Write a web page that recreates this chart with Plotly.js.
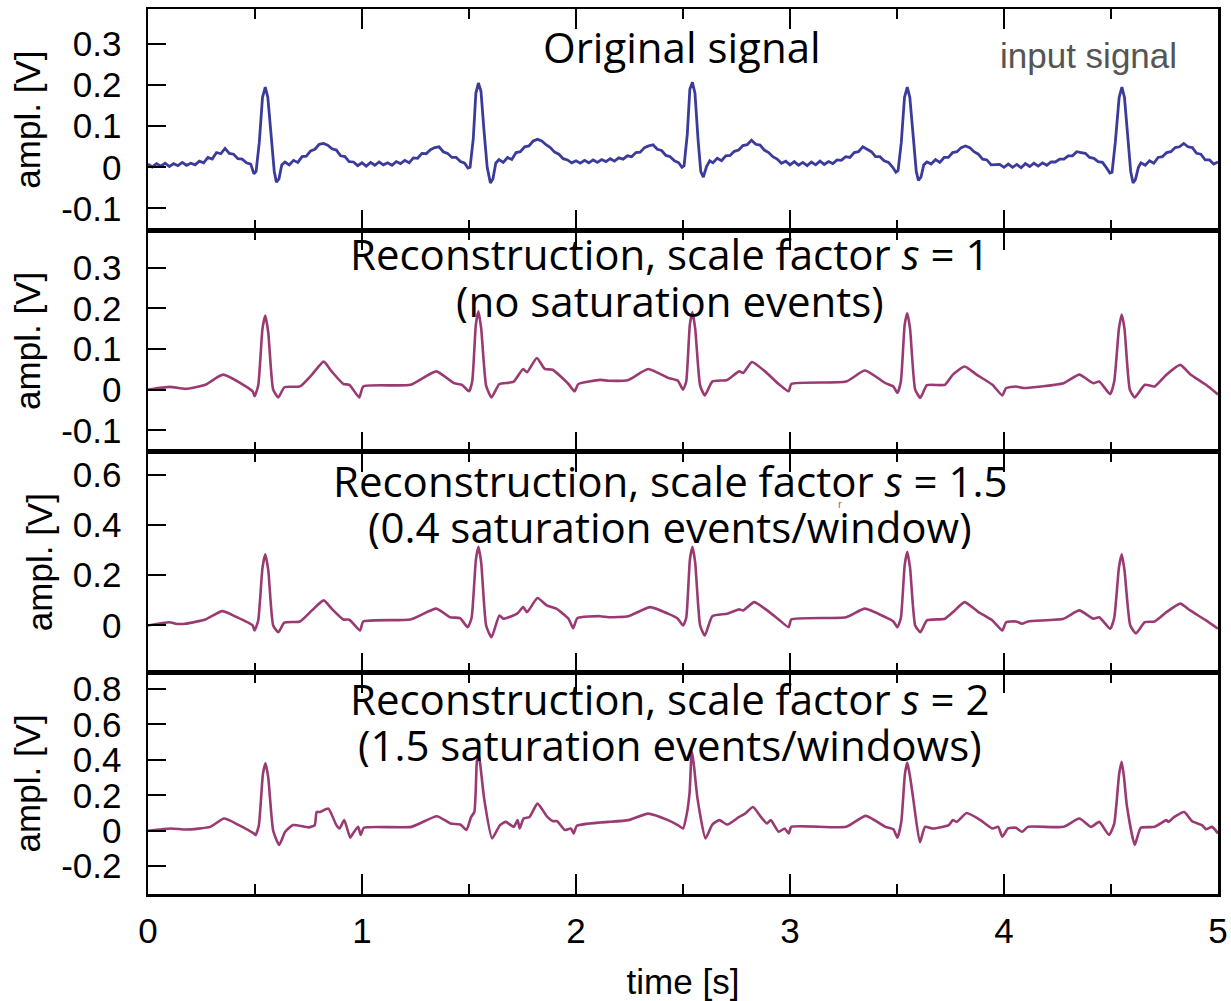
<!DOCTYPE html>
<html>
<head>
<meta charset="utf-8">
<script src="https://cdn.plot.ly/plotly-3.0.1.min.js"></script>
<style>html,body{margin:0;padding:0;background:#fff;}#chart{width:1231px;height:1001px;}</style>
</head>
<body>
<div id="chart"></div>
<script>
// ---------- data ----------
// Original (input) signal
const tOrig = [0.00,0.02,0.04,0.06,0.08,0.10,0.12,0.14,0.16,0.18,0.20,0.22,0.24,0.26,0.28,0.30,0.32,0.34,0.36,0.38,0.40,0.42,0.44,0.46,0.48,0.495,0.505,0.52,0.535,0.548,0.56,0.575,0.59,0.60,0.612,0.625,0.64,0.66,0.68,0.70,0.72,0.74,0.76,0.78,0.80,0.82,0.84,0.86,0.88,0.90,0.92,0.94,0.96,0.98,1.00,1.02,1.04,1.06,1.08,1.10,1.12,1.14,1.16,1.18,1.20,1.22,1.24,1.26,1.28,1.30,1.32,1.34,1.36,1.38,1.40,1.42,1.44,1.46,1.48,1.495,1.505,1.52,1.532,1.544,1.556,1.57,1.585,1.60,1.612,1.625,1.64,1.66,1.68,1.70,1.72,1.74,1.76,1.78,1.80,1.82,1.84,1.86,1.88,1.90,1.92,1.94,1.96,1.98,2.00,2.02,2.04,2.06,2.08,2.10,2.12,2.14,2.16,2.18,2.20,2.22,2.24,2.26,2.28,2.30,2.32,2.34,2.36,2.38,2.40,2.42,2.44,2.46,2.48,2.495,2.505,2.52,2.532,2.544,2.556,2.57,2.583,2.595,2.61,2.625,2.64,2.66,2.68,2.70,2.72,2.74,2.76,2.78,2.80,2.82,2.84,2.86,2.88,2.90,2.92,2.94,2.96,2.98,3.00,3.02,3.04,3.06,3.08,3.10,3.12,3.14,3.16,3.18,3.20,3.22,3.24,3.26,3.28,3.30,3.32,3.34,3.36,3.38,3.40,3.42,3.44,3.46,3.48,3.495,3.505,3.52,3.535,3.548,3.56,3.575,3.59,3.60,3.612,3.625,3.64,3.66,3.68,3.70,3.72,3.74,3.76,3.78,3.80,3.82,3.84,3.86,3.88,3.90,3.92,3.94,3.96,3.98,4.00,4.02,4.04,4.06,4.08,4.10,4.12,4.14,4.16,4.18,4.20,4.22,4.24,4.26,4.28,4.30,4.32,4.34,4.36,4.38,4.40,4.42,4.44,4.46,4.48,4.495,4.505,4.52,4.538,4.551,4.563,4.578,4.592,4.603,4.614,4.628,4.64,4.66,4.68,4.70,4.72,4.74,4.76,4.78,4.80,4.82,4.84,4.86,4.88,4.90,4.92,4.94,4.96,4.98,5.00];
const vOrig = [0.008,0.001,0.009,0.003,0.010,0.002,0.009,0.004,0.012,0.005,0.010,0.006,0.015,0.011,0.024,0.020,0.036,0.033,0.046,0.034,0.032,0.021,0.020,0.011,0.008,-0.016,-0.010,0.06,0.17,0.195,0.17,0.07,-0.01,-0.036,-0.028,0.006,0.013,0.006,0.017,0.012,0.026,0.027,0.040,0.044,0.056,0.058,0.054,0.045,0.042,0.028,0.026,0.014,0.013,0.004,0.011,0.003,0.012,0.005,0.013,0.006,0.011,0.005,0.014,0.009,0.017,0.011,0.023,0.022,0.034,0.033,0.043,0.048,0.050,0.038,0.034,0.024,0.024,0.014,0.010,-0.002,0.0,0.07,0.18,0.205,0.185,0.09,0.0,-0.038,-0.028,0.010,0.019,0.012,0.024,0.019,0.036,0.038,0.050,0.052,0.064,0.068,0.064,0.055,0.048,0.037,0.032,0.021,0.018,0.011,0.016,0.010,0.017,0.011,0.018,0.012,0.019,0.014,0.021,0.015,0.023,0.020,0.028,0.026,0.036,0.037,0.048,0.052,0.055,0.044,0.041,0.029,0.026,0.016,0.011,0.0,0.004,0.08,0.19,0.207,0.18,0.07,-0.01,-0.024,0.002,0.016,0.011,0.022,0.016,0.028,0.029,0.039,0.042,0.053,0.055,0.066,0.056,0.054,0.042,0.036,0.026,0.020,0.010,0.015,0.006,0.014,0.005,0.012,0.004,0.013,0.006,0.015,0.007,0.014,0.009,0.018,0.017,0.026,0.024,0.036,0.038,0.050,0.044,0.038,0.026,0.026,0.016,0.012,0.0,-0.012,-0.008,0.06,0.17,0.195,0.17,0.07,-0.01,-0.032,-0.024,0.006,0.013,0.008,0.019,0.012,0.024,0.024,0.036,0.038,0.048,0.052,0.048,0.038,0.032,0.020,0.018,0.006,0.006,0.007,0.0,0.008,0.0,0.007,-0.001,0.009,0.002,0.010,0.003,0.011,0.005,0.013,0.013,0.020,0.020,0.028,0.028,0.038,0.036,0.034,0.024,0.022,0.014,0.012,-0.002,-0.014,-0.012,0.06,0.17,0.195,0.17,0.07,-0.01,-0.038,-0.03,0.0,0.011,0.005,0.016,0.010,0.024,0.026,0.036,0.038,0.048,0.050,0.058,0.050,0.048,0.034,0.032,0.018,0.018,0.008,0.013];

// Reconstruction, s = 1
const tS1 = [0,0.101,0.175,0.268,0.351,0.489,0.498,0.515,0.535,0.548,0.562,0.585,0.609,0.637,0.710,0.766,0.821,0.858,0.913,0.941,0.987,1.006,1.227,1.347,1.430,1.467,1.500,1.515,1.532,1.544,1.557,1.58,1.605,1.642,1.707,1.753,1.771,1.817,1.854,1.891,1.965,1.993,2.011,2.113,2.152,2.245,2.337,2.430,2.476,2.500,2.515,2.532,2.544,2.557,2.58,2.602,2.637,2.707,2.762,2.781,2.822,2.883,2.947,2.994,3.006,3.262,3.350,3.446,3.483,3.502,3.518,3.536,3.548,3.561,3.585,3.609,3.640,3.724,3.761,3.816,3.872,3.946,3.992,4.010,4.056,4.093,4.278,4.352,4.417,4.445,4.496,4.515,4.537,4.550,4.563,4.588,4.611,4.658,4.704,4.759,4.824,4.870,4.944,5.0];
const vS1 = [0,0.007,0.002,0.012,0.037,-0.004,-0.016,0.01,0.15,0.182,0.14,0.0,-0.019,0.006,0.008,0.037,0.069,0.045,0.014,0.012,-0.019,0.008,0.012,0.045,0.016,0.012,-0.004,0.02,0.16,0.193,0.15,0.01,-0.019,0.014,0.019,0.051,0.043,0.078,0.051,0.049,0.014,-0.004,0.014,0.024,0.022,0.024,0.051,0.029,0.022,0.0,0.02,0.16,0.19,0.15,0.01,-0.014,0.02,0.024,0.045,0.041,0.068,0.045,0.014,-0.004,0.014,0.02,0.047,0.016,0.008,-0.008,0.02,0.16,0.188,0.15,0.0,-0.02,0.011,0.012,0.037,0.057,0.037,0.012,-0.014,0.004,0.008,0.004,0.016,0.037,0.016,0.02,-0.011,0.02,0.15,0.185,0.15,0.0,-0.019,0.012,0.008,0.037,0.061,0.038,0.012,-0.012];

// Reconstruction, s = 1.5
const tS15 = [0,0.101,0.129,0.175,0.268,0.347,0.415,0.489,0.498,0.515,0.535,0.548,0.562,0.585,0.609,0.637,0.710,0.766,0.821,0.858,0.913,0.941,0.991,1.006,1.227,1.347,1.411,1.458,1.494,1.512,1.532,1.544,1.557,1.58,1.605,1.642,1.661,1.725,1.753,1.771,1.820,1.863,1.908,1.965,1.987,2.006,2.113,2.152,2.245,2.347,2.430,2.476,2.500,2.515,2.532,2.544,2.557,2.58,2.602,2.637,2.707,2.762,2.781,2.833,2.893,2.947,2.994,3.006,3.262,3.350,3.446,3.483,3.502,3.518,3.536,3.548,3.561,3.585,3.609,3.640,3.724,3.770,3.816,3.881,3.946,3.992,4.010,4.056,4.084,4.112,4.278,4.352,4.417,4.445,4.496,4.515,4.537,4.550,4.563,4.59,4.617,4.658,4.704,4.759,4.824,4.870,4.944,5.0];
const vS15 = [0,0.013,0.007,0.007,0.024,0.057,0.033,0.0,-0.02,0.02,0.23,0.283,0.22,0.0,-0.027,0.011,0.016,0.06,0.1,0.067,0.024,0.023,-0.02,0.016,0.024,0.067,0.033,0.029,-0.007,0.03,0.26,0.313,0.25,0.0,-0.047,0.04,0.027,0.047,0.073,0.053,0.109,0.08,0.067,0.027,-0.011,0.029,0.037,0.033,0.037,0.073,0.047,0.027,0.0,0.03,0.26,0.313,0.25,0.0,-0.04,0.037,0.047,0.064,0.06,0.093,0.06,0.024,-0.007,0.024,0.033,0.067,0.033,0.016,-0.007,0.03,0.24,0.293,0.23,0.0,-0.027,0.02,0.027,0.06,0.093,0.053,0.02,-0.02,0.013,0.016,0.007,0.016,0.027,0.06,0.027,0.033,-0.013,0.03,0.23,0.283,0.22,0.0,-0.031,0.013,0.016,0.053,0.087,0.06,0.02,-0.013];

// Reconstruction, s = 2
const tS2 = [0,0.107,0.180,0.291,0.355,0.420,0.494,0.503,0.518,0.537,0.549,0.562,0.585,0.613,0.641,0.678,0.751,0.779,0.788,0.803,0.843,0.880,0.895,0.917,0.945,0.963,0.982,0.994,1.009,1.230,1.350,1.414,1.460,1.488,1.510,1.525,1.536,1.543,1.552,1.571,1.608,1.645,1.672,1.709,1.727,1.737,1.755,1.783,1.820,1.866,1.893,1.912,1.948,1.976,1.989,2.004,2.114,2.152,2.245,2.337,2.430,2.476,2.500,2.518,2.531,2.541,2.55,2.568,2.605,2.637,2.670,2.707,2.762,2.790,2.827,2.864,2.892,2.910,2.947,2.975,2.994,3.006,3.262,3.354,3.446,3.483,3.502,3.52,3.537,3.548,3.559,3.576,3.607,3.631,3.668,3.742,3.761,3.779,3.825,3.890,3.946,3.973,3.992,4.019,4.056,4.084,4.112,4.278,4.352,4.407,4.445,4.491,4.515,4.538,4.550,4.561,4.574,4.611,4.639,4.704,4.759,4.768,4.796,4.842,4.879,4.925,4.944,4.972,5.0];
const vS2 = [0,0.013,0.007,0.022,0.069,0.035,-0.015,-0.024,0.03,0.32,0.381,0.3,0.0,-0.08,-0.006,0.032,0.019,0.032,0.106,0.106,0.125,0.032,0.013,0.06,-0.039,-0.006,0.022,-0.024,0.017,0.022,0.082,0.041,0.035,0.004,0.078,0.106,0.38,0.445,0.38,0.18,-0.043,0.032,0.05,0.022,0.06,0.013,0.069,0.078,0.153,0.078,0.054,0.054,0.004,0.013,-0.015,0.028,0.047,0.05,0.06,0.097,0.06,0.032,0.013,0.097,0.218,0.45,0.38,0.18,-0.043,0.035,0.06,0.035,0.078,0.097,0.134,0.078,0.041,0.06,-0.006,0.013,-0.015,0.022,0.022,0.084,0.022,0.009,-0.039,0.05,0.32,0.385,0.32,0.18,-0.065,0.022,0.013,0.032,0.06,0.05,0.1,0.06,0.013,0.022,-0.033,0.013,0.017,-0.006,0.022,0.022,0.069,0.022,0.05,-0.024,0.04,0.32,0.389,0.3,0.143,-0.08,0.017,0.022,0.06,0.05,0.078,0.106,0.054,0.032,0.009,0.022,-0.015];

// ticks and labels
const xTickVals = [0,1,2,3,4,5];
const xTickText = ['0','1','2','3','4','5'];
const xMinorVals = [0.5,1.5,2.5,3.5,4.5];
const yTickVals12 = [-0.1,0,0.1,0.2,0.3];
const yTickText12 = ['-0.1','0','0.1','0.2','0.3'];
const yTickVals3 = [0,0.2,0.4,0.6];
const yTickText3 = ['0','0.2','0.4','0.6'];
const yTickVals4 = [-0.2,0,0.2,0.4,0.6,0.8];
const yTickText4 = ['-0.2','0','0.2','0.4','0.6','0.8'];

const panelTitles = [
  'Original signal',
  'Reconstruction, scale factor <i>s</i> = 1', '(no saturation events)',
  'Reconstruction, scale factor <i>s</i> = 1.5', '(0.4 saturation events/window)',
  'Reconstruction, scale factor <i>s</i> = 2', '(1.5 saturation events/windows)'
];

// ---------- styling ----------
const BLUE = '#3b3b9c';
const PLUM = '#9a3a73';
const AXFONT = {family: 'Liberation Sans, Arial, Helvetica, sans-serif', size: 35, color: '#000'};
const TFONT = {family: '"Open Sans", Calibri, Lato, sans-serif', size: 42, color: '#000'};

const traces = [
  {x: tOrig, y: vOrig, xaxis: 'x', yaxis: 'y', mode: 'lines', line: {color: BLUE, width: 2.8}, name: 'input signal', showlegend: false},
  {x: tS1, y: vS1, xaxis: 'x2', yaxis: 'y2', mode: 'lines', line: {color: PLUM, width: 2.6, shape: 'spline', smoothing: 0.5}, name: 's = 1', showlegend: false},
  {x: tS15, y: vS15, xaxis: 'x3', yaxis: 'y3', mode: 'lines', line: {color: PLUM, width: 2.6, shape: 'spline', smoothing: 0.5}, name: 's = 1.5', showlegend: false},
  {x: tS2, y: vS2, xaxis: 'x4', yaxis: 'y4', mode: 'lines', line: {color: PLUM, width: 2.6, shape: 'spline', smoothing: 0.5}, name: 's = 2', showlegend: false}
];

function xAx(anchor, showLabels) {
  const a = {
    anchor: anchor, domain: [0, 1], range: [0, 5],
    showline: true, linecolor: '#000', linewidth: 2.5, mirror: 'ticks',
    ticks: 'inside', ticklen: 20, tickwidth: 2, tickcolor: '#000',
    tickvals: xTickVals, ticktext: xTickText,
    minor: {tickvals: xMinorVals, ticks: 'inside', ticklen: 10, tickwidth: 2, tickcolor: '#000', showgrid: false},
    showgrid: false, zeroline: false, showticklabels: showLabels,
    tickfont: AXFONT, ticklabelstandoff: 4
  };
  if (showLabels) a.title = {text: 'time [s]', font: AXFONT, standoff: 22};
  return a;
}
function yAx(anchor, dom, rng, vals, text) {
  return {
    anchor: anchor, domain: dom, range: rng,
    showline: true, linecolor: '#000', linewidth: 2.5, mirror: true,
    ticks: 'inside', ticklen: 18, tickwidth: 2, tickcolor: '#000',
    tickvals: vals, ticktext: text,
    showgrid: false, zeroline: false,
    tickfont: AXFONT, ticklabelstandoff: 17,
    title: {text: 'ampl. [V]', font: AXFONT, standoff: 10}
  };
}

// paper positions of titles
function ann(text, x, y, font, extra) {
  return Object.assign({text: text, xref: 'paper', yref: 'paper', x: x, y: y, xanchor: 'center', yanchor: 'middle', showarrow: false, font: font}, extra || {});
}
const TBOX = {height: 46, valign: 'middle'};
const annotations = [
  ann(panelTitles[0], 0.499, 0.958, TFONT),
  ann('input signal', 0.879, 0.948, {family: 'Liberation Sans, Arial, sans-serif', size: 35, color: '#555'}),
  ann(panelTitles[1], 0.488, 0.724, TFONT, TBOX),
  ann(panelTitles[2], 0.488, 0.671, TFONT, TBOX),
  ann(panelTitles[3], 0.488, 0.468, TFONT, TBOX),
  ann(panelTitles[4], 0.488, 0.416, TFONT, TBOX),
  ann(panelTitles[5], 0.488, 0.222, TFONT, TBOX),
  ann(panelTitles[6], 0.488, 0.169, TFONT, TBOX),
  ann('r', 0.6467, 0.4405, {family: 'Liberation Sans, Arial, sans-serif', size: 11, color: '#777'})
];

const layout = {
  width: 1231, height: 1001,
  margin: {l: 148, r: 13, t: 9, b: 107},
  paper_bgcolor: '#fff', plot_bgcolor: '#fff',
  showlegend: false,
  xaxis: xAx('y', false),
  yaxis: yAx('x', [0.75, 1], [-0.153, 0.385], yTickVals12, yTickText12),
  xaxis2: xAx('y2', false),
  yaxis2: yAx('x2', [0.5, 0.75], [-0.152, 0.392], yTickVals12, yTickText12),
  xaxis3: xAx('y3', false),
  yaxis3: yAx('x3', [0.25, 0.5], [-0.188, 0.692], yTickVals3, yTickText3),
  xaxis4: xAx('y4', true),
  yaxis4: yAx('x4', [0, 0.25], [-0.357, 0.892], yTickVals4, yTickText4),
  annotations: annotations
};

Plotly.newPlot('chart', traces, layout, {staticPlot: true, displayModeBar: false});
</script>
</body>
</html>
